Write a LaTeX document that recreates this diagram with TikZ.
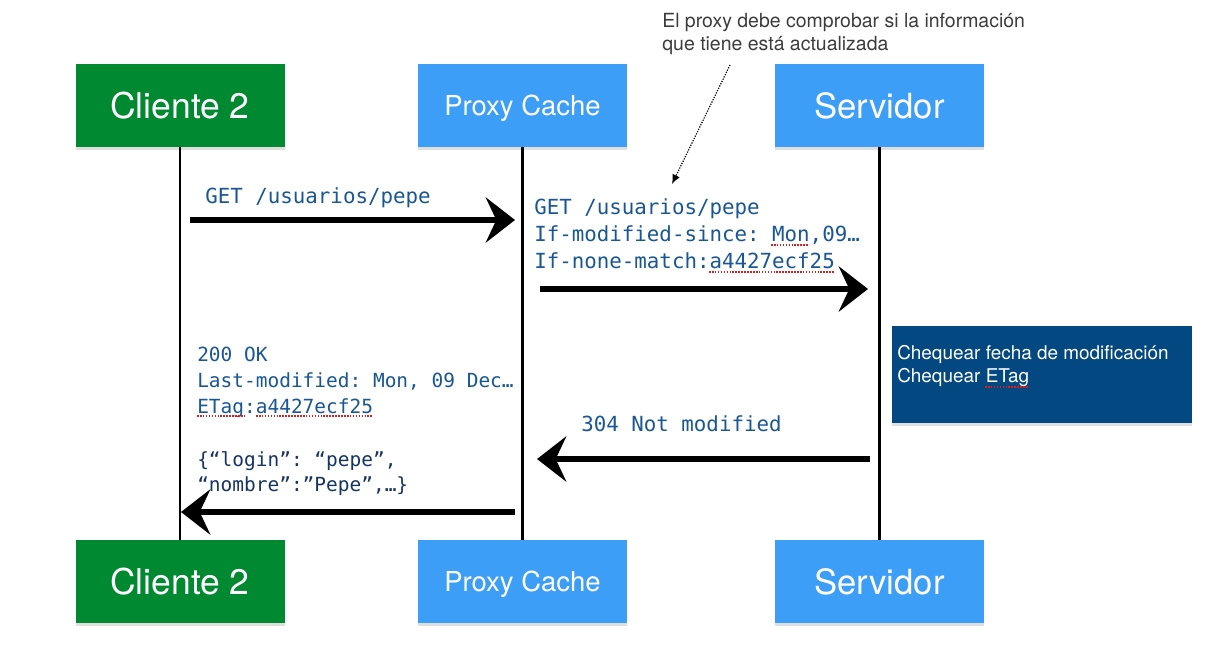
\documentclass[tikz,border=0pt]{standalone}
\usepackage{fontspec}
\setmainfont{TeX Gyre Heros}
\setmonofont{DejaVu Sans Mono}
\usetikzlibrary{arrows.meta,shadows}

\definecolor{clientgreen}{RGB}{0,137,48}
\definecolor{proxyblue}{RGB}{61,158,247}
\definecolor{checkblue}{RGB}{4,72,130}
\definecolor{msgblue}{RGB}{24,86,150}
\definecolor{jsonblue}{RGB}{20,52,100}
\definecolor{notegray}{RGB}{60,60,60}
\definecolor{spellred}{RGB}{220,30,30}

\tikzset{
  actor/.style={rectangle, inner sep=0pt, minimum width=156.75pt, minimum height=62.25pt, text=white,
    text depth=0pt, drop shadow={shadow xshift=0pt, shadow yshift=-2pt, opacity=0.25}},
  lifeline/.style={line width=2.2pt},
  msg/.style={line width=4pt, -{Stealth[length=22pt,width=34pt,inset=8pt]}},
  msgtext/.style={anchor=base west, inner sep=0pt, text=msgblue, font=\ttfamily\fontsize{15.6}{20}\selectfont},
  resptext/.style={anchor=base west, inner sep=0pt, text=msgblue, font=\ttfamily\fontsize{14.6}{19}\selectfont},
  checkbox/.style={rectangle, inner sep=0pt, fill=checkblue, minimum width=225pt, minimum height=72.75pt,
    drop shadow={shadow xshift=0pt, shadow yshift=-2pt, opacity=0.25}},
  checktext/.style={anchor=base west, inner sep=0pt, text=white, font=\fontsize{14.2}{17}\selectfont},
  note/.style={anchor=base west, inner sep=0pt, text=notegray, font=\fontsize{14.6}{18}\selectfont},
  spell/.style={spellred, line width=1.1pt, dash pattern=on 1.2pt off 1pt},
}

\begin{document}
\begin{tikzpicture}[x=0.75pt,y=0.75pt,yscale=-1,xscale=1]
\useasboundingbox (0,0) rectangle (1214,661);

%Shape: Rectangle (top row)
\node [actor, fill=clientgreen, font=\fontsize{26.6}{30}\selectfont] (cliTop) at (180,105.5) {Cliente 2};
\node [actor, fill=proxyblue, font=\fontsize{20.6}{24}\selectfont] (proxyTop) at (522.5,105.5) {Proxy Cache};
\node [actor, fill=proxyblue, font=\fontsize{26}{30}\selectfont] (servTop) at (879.5,105.5) {Servidor};
%Shape: Rectangle (bottom row)
\node [actor, fill=clientgreen, font=\fontsize{26.6}{30}\selectfont] (cliBot) at (180,581.5) {Cliente 2};
\node [actor, fill=proxyblue, font=\fontsize{20.6}{24}\selectfont] (proxyBot) at (522.5,581.5) {Proxy Cache};
\node [actor, fill=proxyblue, font=\fontsize{26}{30}\selectfont] (servBot) at (879.5,581.5) {Servidor};

%Straight Lines (lifelines)
\draw [lifeline] (cliTop.south) -- (cliBot.north);
\draw [lifeline] (proxyTop.south) -- (proxyBot.north);
\draw [lifeline] (servTop.south) -- (servBot.north);

%Shape: Rectangle (server check)
\node [checkbox] (chk) at (1042,374.5) {};
% Text Node
\node [checktext] (chk1) at (897,359) {Chequear fecha de modificación};
% Text Node
\node [checktext] (chk2) at (897,382) {Chequear ETag};

%Straight Lines (messages)
\coordinate (m1a) at (190,220);
\coordinate (m1b) at (515,220);
\draw [msg] (m1a) -- (m1b);
\coordinate (m2a) at (540,289);
\coordinate (m2b) at (868,289);
\draw [msg] (m2a) -- (m2b);
\coordinate (m3a) at (870,459);
\coordinate (m3b) at (537,459);
\draw [msg] (m3a) -- (m3b);
\coordinate (m4a) at (515,512);
\coordinate (m4b) at (181,512);
\draw [msg] (m4a) -- (m4b);

% Text Node
\node [msgtext] (get1) at (205,203) {GET /usuarios/pepe};
% Text Node
\node [msgtext] (get2) at (534,214) {GET /usuarios/pepe};
\node [msgtext] (ims) at (534,241) {If-modified-since: Mon,09…};
\node [msgtext] (inm) at (534,268) {If-none-match:a4427ecf25};
% Text Node
\node [msgtext] (notmod) at (581,431) {304 Not modified};
% Text Node
\node [resptext] (ok) at (197,361) {200 OK};
\node [resptext] (lastmod) at (197,387) {Last-modified: Mon, 09 Dec…};
\node [resptext] (etag) at (197,413) {ETag:a4427ecf25};
\node [resptext, text=jsonblue] (json1) at (197,466) {\{“login”: “pepe”,};
\node [resptext, text=jsonblue] (json2) at (197,491) {“nombre”:”Pepe”,…\}};

%Straight Lines (spell marks)
\draw [spell] (771,245) -- (809,245);
\draw [spell] (709,272) -- (834,272);
\draw [spell] (197,416) -- (244,416);
\draw [spell] (256,416) -- (373,416);
\draw [spell] (985,387) -- (1028,387);

% Text Node
\node [note] (note1) at (662,27) {El proxy debe comprobar si la información};
\node [note] (note2) at (662,50) {que tiene está actualizada};
\coordinate (noteTail) at (730,65);
\coordinate (noteTip) at (672,184);
\draw [densely dotted, line width=0.9pt, -{Latex[length=7pt,width=6pt]}] (noteTail) -- (noteTip);

\end{tikzpicture}
\end{document}
